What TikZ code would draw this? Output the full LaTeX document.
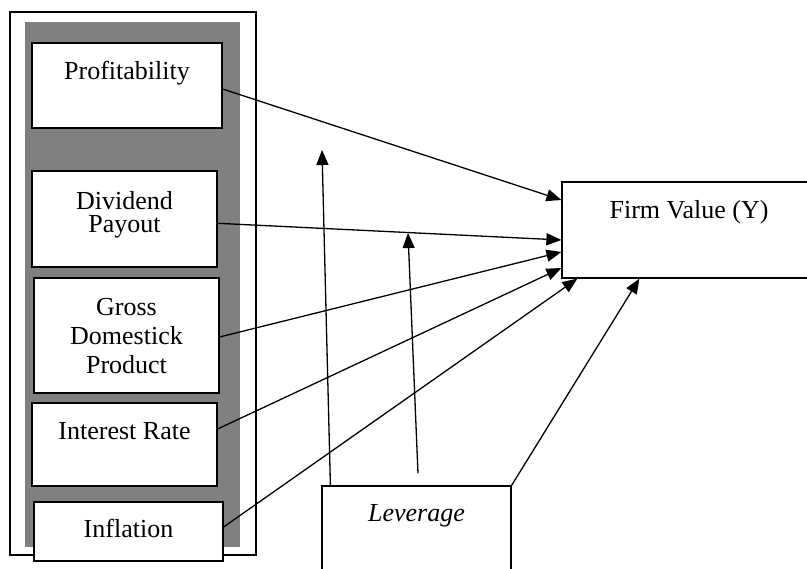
\documentclass[tikz,border=0pt]{standalone}
\usepackage{fontspec}
\setmainfont{Liberation Serif}
\usetikzlibrary{arrows.meta, positioning}
\tikzset{
  >={Triangle[length=15pt, width=12pt]},
  box/.style={draw, fill=white, line width=1.2pt, inner sep=0pt},
  lbl/.style={inner sep=0pt, align=center, font=\fontsize{26}{29}\selectfont},
  link/.style={->, line width=1.3pt},
}
\begin{document}
\begin{tikzpicture}[x=1pt, y=-1pt]
  \clip (0,0) rectangle (807,569);
  % ---------------- frame of the independent variables
  \draw[line width=1.1pt] (10,12) rectangle (256,555);
  \fill[gray] (25,22) rectangle (240,547);
  \node[box, minimum width=190, minimum height=85] (prof) at (127,85.5) {};
  \node[box, minimum width=185, minimum height=96] (div) at (124.5,219) {};
  \node[box, minimum width=185, minimum height=115] (gdp) at (126.5,335.5) {};
  \node[box, minimum width=185, minimum height=83] (rate) at (124.5,444.5) {};
  \node[box, minimum width=189, minimum height=59] (infl) at (128.5,531.5) {};
  % dependent variable and moderator
  \node[box, minimum width=254, minimum height=96] (firm) at (689,230) {};
  \node[box, minimum width=189, minimum height=134] (lev) at (416.5,553) {};
  % labels
  \node[lbl, below=18.2pt of prof.north] (proft) {Profitability};
  \node[lbl, below=20.5pt of div.north] (divt) {Dividend\\[-6pt]Payout};
  \node[lbl, below=21pt of gdp.north] (gdpt) {Gross\\Domestick\\Product};
  \node[lbl, below=20pt of rate.north] (ratet) {Interest Rate};
  \node[lbl, below=18pt of infl.north] (inflt) {Inflation};
  \node[lbl, below=19pt of firm.north] (firmt) {Firm Value (Y)};
  \node[lbl, below=19pt of lev.north] (levt) {\itshape Leverage};
  % ---------------- direct effects
  \draw[link] ([yshift=-3.5pt]prof.east) -- ([yshift=30pt]firm.west);
  \draw[link] ([yshift=-4.3pt]div.east) -- ([yshift=-10pt]firm.west);
  \draw[link] ([yshift=-1.5pt]gdp.east) -- ([yshift=-22pt]firm.west);
  \draw[link] ([yshift=15.5pt]rate.east) -- ([yshift=-38pt]firm.west);
  \draw[link] ([yshift=4.5pt]infl.east) -- ([xshift=16pt]firm.south west);
  \draw[link] (lev.north east) -- ([xshift=78pt]firm.south west);
  % ---------------- moderating effects
  \coordinate (m1) at (322,150);
  \coordinate (m2) at (408,233);
  \draw[link] ([xshift=9pt]lev.north west) -- (m1);
  \draw[link] ([xshift=1.5pt, yshift=12pt]lev.north) -- (m2);
\end{tikzpicture}
\end{document}
